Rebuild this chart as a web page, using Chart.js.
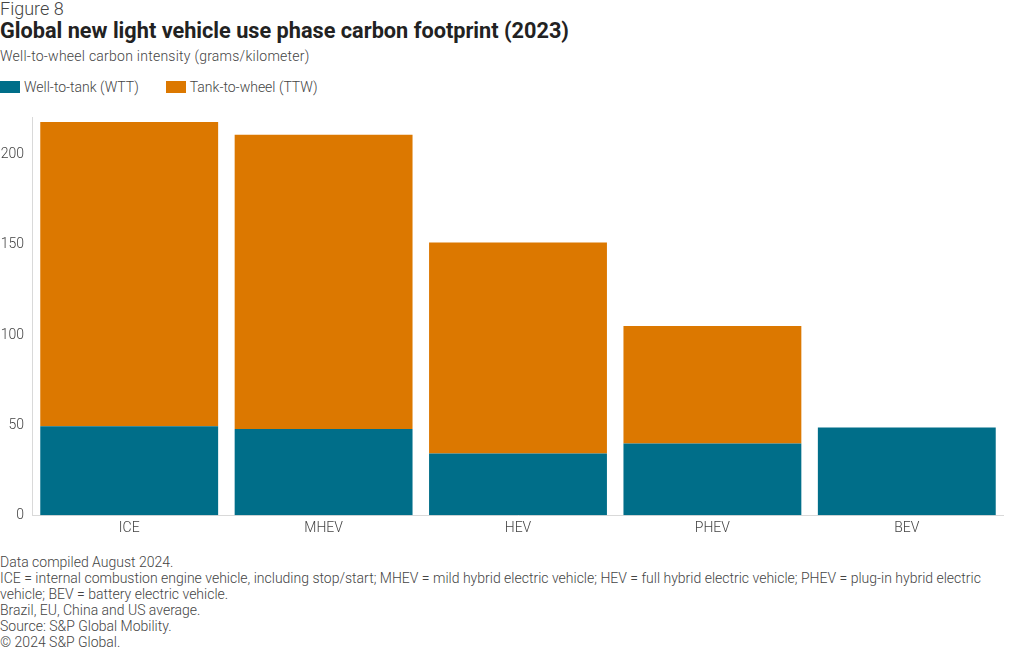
<!DOCTYPE html>
<html>
<head>
<meta charset="utf-8">
<script src="https://cdn.jsdelivr.net/npm/chart.js@4"></script>
<style>
  body { margin: 0; background: #fff; font-family: Roboto, "Noto Sans", sans-serif; color: #333; }
  #wrap { position: relative; width: 1020px; height: 650px; overflow: hidden; }
  .fig { position: absolute; left: 0; top: -2px; font-size: 18px; font-weight: 300; color: #444; }
  .title { position: absolute; left: 0; top: 18px; font-size: 21.7px; font-weight: 700; color: #222; }
  .sub { position: absolute; left: 0; top: 48px; font-size: 14px; font-weight: 300; color: #444; letter-spacing: 0.25px; }
  .legend { position: absolute; left: 0; top: 79px; font-size: 14px; font-weight: 300; color: #444; }
  .legend span.item { display: inline-block; margin-right: 27px; }
  .legend i { display: inline-block; width: 20px; height: 12px; vertical-align: -1px; margin-right: 4px; }
  #box { position: absolute; left: 0; top: 100px; width: 1004px; height: 442px; }
  .notes { position: absolute; left: 0; top: 554px; font-size: 14px; font-weight: 300; color: #444; line-height: 16px; width: 985px; }
</style>
</head>
<body>
<div id="wrap">
  <div class="fig">Figure 8</div>
  <div class="title">Global new light vehicle use phase carbon footprint (2023)</div>
  <div class="sub">Well-to-wheel carbon intensity (grams/kilometer)</div>
  <div class="legend" id="legend"></div>
  <div id="box"><canvas id="chart"></canvas></div>
  <div class="notes">
    Data compiled August 2024.<br>
    ICE = internal combustion engine vehicle, including stop/start; MHEV = mild hybrid electric vehicle; HEV = full hybrid electric vehicle; PHEV = plug-in hybrid electric vehicle; BEV = battery electric vehicle.<br>
    Brazil, EU, China and US average.<br>
    Source: S&amp;P Global Mobility.<br>
    © 2024 S&amp;P Global.
  </div>
</div>
<script>
const categories = ['ICE', 'MHEV', 'HEV', 'PHEV', 'BEV'];
const wttValues = [49.4, 47.9, 34.3, 39.8, 48.7];
const ttwValues = [168.8, 163.2, 117, 65.2, 0];
const yTicks = [0, 50, 100, 150, 200];
const seriesNames = ['Well-to-tank (WTT)', 'Tank-to-wheel (TTW)'];
const seriesColors = ['#006e89', '#dc7800'];

const legendEl = document.getElementById('legend');
seriesNames.forEach((name, i) => {
    const s = document.createElement('span');
    s.className = 'item';
    s.innerHTML = '<i style="background:' + seriesColors[i] + '"></i>' + name;
    legendEl.appendChild(s);
});

const ctx = document.getElementById('chart').getContext('2d');
new Chart(ctx, {
    type: 'bar',
    data: {
        labels: categories,
        datasets: [
            { label: seriesNames[0], data: wttValues, backgroundColor: seriesColors[0], borderWidth: 0 },
            { label: seriesNames[1], data: ttwValues, backgroundColor: seriesColors[1], borderWidth: 0 }
        ]
    },
    options: {
        responsive: true,
        maintainAspectRatio: false,
        animation: false,
        layout: { padding: { top: 17, right: 0, left: 0, bottom: 0 } },
        plugins: { legend: { display: false }, tooltip: { enabled: false } },
        datasets: { bar: { categoryPercentage: 1, barPercentage: 0.915 } },
        scales: {
            x: {
                stacked: true,
                grid: { display: false, drawTicks: false },
                border: { color: '#d9d9d9' },
                ticks: { color: '#444', font: { family: 'Roboto', size: 14, weight: 300 }, padding: 5 }
            },
            y: {
                stacked: true,
                min: 0,
                max: 221,
                afterBuildTicks: axis => { axis.ticks = yTicks.map(v => ({ value: v })); },
                afterFit: axis => { axis.width = 32; },
                grid: { display: false, drawTicks: false },
                border: { color: '#d9d9d9' },
                ticks: { color: '#444', font: { family: 'Roboto', size: 14, weight: 300 }, padding: 8 }
            }
        }
    }
});
</script>
</body>
</html>
